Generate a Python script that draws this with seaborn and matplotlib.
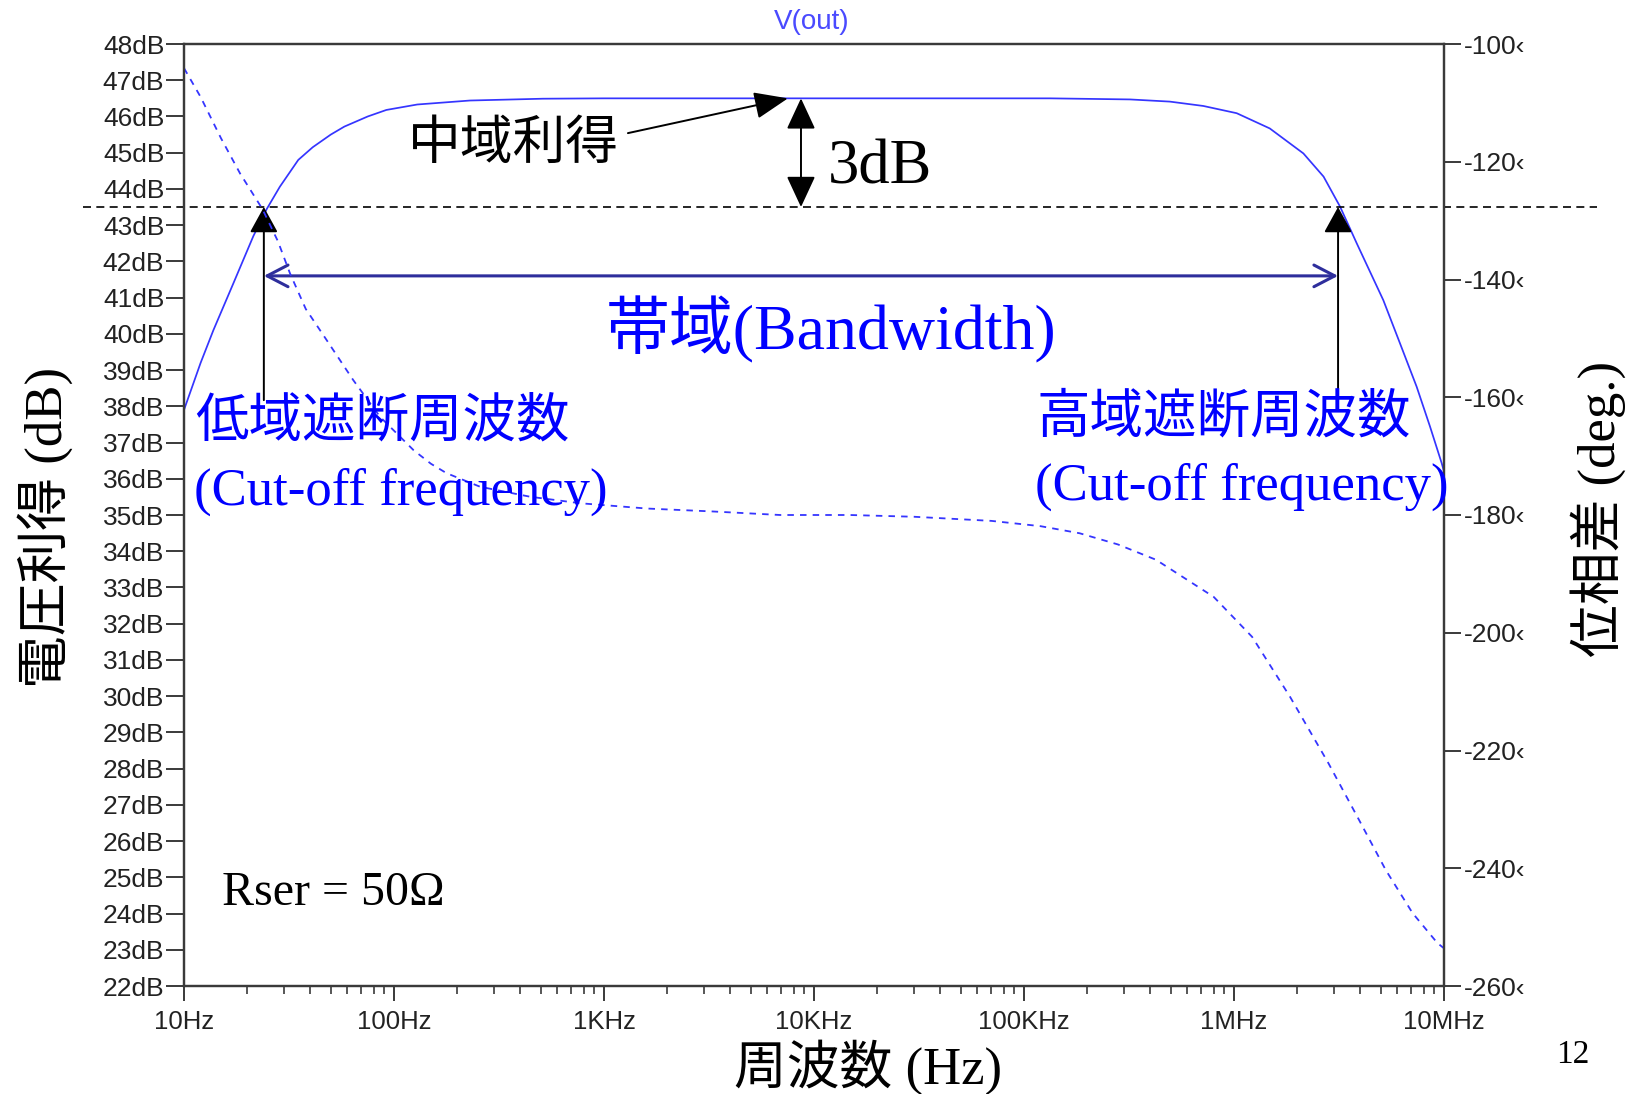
import numpy as np
import matplotlib
matplotlib.use("Agg")
import matplotlib.pyplot as plt
from matplotlib.ticker import FixedLocator, FixedFormatter, LogLocator, NullFormatter
import seaborn as sns

# Measured frequency response of the amplifier (Rser = 50 ohm)
gain_freq_hz = [10, 12, 13.8, 17.2, 21.4, 24.8, 28.6, 35, 41, 50, 58, 75, 92, 129, 230, 511,
                1e3, 1e4, 1.33e5, 3.2e5, 4.95e5, 7.14e5, 1.03e6, 1.48e6, 2.14e6,
                2.67e6, 3.2e6, 3.84e6, 5.14e6, 6.17e6, 7.41e6, 8.58e6, 9.75e6, 1e7]
gain_db = [37.9, 39.2, 40.1, 41.4, 42.7, 43.45, 44.06, 44.8, 45.15, 45.5, 45.72, 46.0, 46.18,
           46.33, 46.44, 46.49,
           46.5, 46.5, 46.5, 46.47, 46.41, 46.29, 46.09, 45.67, 44.98,
           44.34, 43.51, 42.5, 40.93, 39.74, 38.54, 37.44, 36.43, 36.2]

phase_freq_hz = [10, 12, 15, 18.5, 23.6, 28, 32, 38, 47.8, 64, 85.7, 124, 150, 178, 257, 445,
                 768, 1600, 3300, 6900, 14800, 30000, 70000, 1.2e5, 1.84e5, 2.8e5, 4.25e5,
                 8e5, 1.22e6, 1.85e6, 2.82e6, 3.94e6, 5.28e6, 7.08e6, 9.3e6, 1e7]
phase_deg = [-104.1, -109, -116, -122, -128, -133.5, -139.0, -145, -150.3, -157.1, -163.3,
             -169.0, -171.3, -172.9, -175.2, -176.9, -178.0, -178.9, -179.4, -180.0, -180.0,
             -180.3, -181.0, -181.9, -183.1, -185.0, -187.6, -193.9, -200.7, -210.9,
             -222.2, -231.8, -240.3, -247.6, -252.7, -253.6]

midband_db = 46.5
cutoff_db = midband_db - 3
f_low_hz = 24.0
f_high_hz = 3.13e6

x_ticks = [1e1, 1e2, 1e3, 1e4, 1e5, 1e6, 1e7]
x_tick_labels = ["10Hz", "100Hz", "1KHz", "10KHz", "100KHz", "1MHz", "10MHz"]
gain_ticks = list(range(22, 49))
gain_tick_labels = [f"{v}dB" for v in gain_ticks]
phase_ticks = list(range(-260, -99, 20))
phase_tick_labels = [f"{v}\u2039" for v in phase_ticks]

# ---------------------------------------------------------------- style
sns.set_theme(style="white")
plt.rcParams["font.family"] = ["Liberation Sans", "Noto Sans CJK JP"]
plt.rcParams["lines.scale_dashes"] = True

trace_blue = "#3535ff"
text_blue = "#0000ff"
arrow_navy = "#2e2e9c"
frame_col = "#3a3a3a"
tick_text = "#222222"
CJK = ["Noto Sans CJK JP"]
SERIF_CJK = ["Liberation Serif", "Noto Sans CJK JP"]

W, H = 1637, 1094
fig = plt.figure(figsize=(W / 100, H / 100), dpi=100, facecolor="white")


def fx(x):
    return x / W


def fy(y):
    return 1 - y / H


ax = fig.add_axes([fx(184), fy(986), (1444 - 184) / W, (986 - 44) / H])
ax2 = ax.twinx()

# ---------------------------------------------------------------- traces
ax.set_xscale("log")
sns.lineplot(x=gain_freq_hz, y=gain_db, ax=ax, color=trace_blue, lw=1.25,
             estimator=None, sort=True)
sns.lineplot(x=phase_freq_hz, y=phase_deg, ax=ax2, color=trace_blue, lw=1.3,
             estimator=None, sort=True, linestyle=(0, (3.6, 3.4)))

ax.set_xlim(10, 1e7)
ax.set_ylim(22, 48)
ax2.set_ylim(-260, -100)
for a in (ax, ax2):
    a.set_xlabel("")
    a.set_ylabel("")
    a.grid(False)
    for s in a.spines.values():
        s.set_color(frame_col)
        s.set_linewidth(1.6)

# ---------------------------------------------------------------- ticks
ax.xaxis.set_major_locator(FixedLocator(x_ticks))
ax.xaxis.set_major_formatter(FixedFormatter(x_tick_labels))
ax.xaxis.set_minor_locator(LogLocator(base=10, subs=np.arange(2, 10)))
ax.xaxis.set_minor_formatter(NullFormatter())
ax.tick_params(axis="x", which="major", bottom=True, direction="out", length=11,
               width=1.4, color=frame_col, pad=6, labelsize=18.5, labelcolor=tick_text)
ax.tick_params(axis="x", which="minor", bottom=True, direction="out", length=6,
               width=1.2, color=frame_col)

ax.yaxis.set_major_locator(FixedLocator(gain_ticks))
ax.yaxis.set_major_formatter(FixedFormatter(gain_tick_labels))
ax.tick_params(axis="y", which="major", left=True, direction="out", length=13,
               width=1.4, color=frame_col, pad=1.2, labelsize=19, labelcolor=tick_text)

ax2.yaxis.set_major_locator(FixedLocator(phase_ticks))
ax2.yaxis.set_major_formatter(FixedFormatter(phase_tick_labels))
ax2.tick_params(axis="y", which="major", right=True, direction="out", length=12.5,
                width=1.4, color=frame_col, pad=2, labelsize=19, labelcolor=tick_text)

# ---------------------------------------------------------------- -3 dB reference line
ax.axhline(cutoff_db, xmin=(83 - 184) / 1260, xmax=(1597 - 184) / 1260, clip_on=False,
           color="black", lw=1.2, linestyle=(0, (4.8, 3.2)), zorder=3)

# cut-off markers
for f in (f_low_hz, f_high_hz):
    ax.annotate("", xy=(f, cutoff_db), xytext=(f, 38.17),
                arrowprops=dict(arrowstyle="-|>,head_length=0.8,head_width=0.44",
                                color="black", lw=1.4, shrinkA=0, shrinkB=0,
                                mutation_scale=20))

# bandwidth arrow
ax.annotate("", xy=(f_high_hz, 41.6), xytext=(f_low_hz, 41.6),
            arrowprops=dict(arrowstyle="<->,head_length=0.5,head_width=0.26",
                            color=arrow_navy, lw=2.2, shrinkA=0, shrinkB=0,
                            mutation_scale=30))

# 3 dB span
ax.annotate("", xy=(8670, cutoff_db), xytext=(8670, midband_db),
            arrowprops=dict(arrowstyle="<|-|>,head_length=0.97,head_width=0.45",
                            color="black", lw=1.4, shrinkA=0, shrinkB=0,
                            mutation_scale=20))

# mid-band gain pointer
ax.annotate("", xy=(7515, midband_db), xytext=(1300, 45.54),
            arrowprops=dict(arrowstyle="-|>,head_length=1.05,head_width=0.42",
                            color="black", lw=1.4, shrinkA=0, shrinkB=0,
                            mutation_scale=20))

# ---------------------------------------------------------------- texts
fig.text(fx(812), fy(22), "V(out)", color="#4a4aff", fontsize=20,
         family=["Liberation Sans"], ha="center", va="center")
fig.text(fx(408), fy(143), "中域利得", color="black", fontsize=38, family=CJK,
         ha="left", va="center")
fig.text(fx(828), fy(183), "3dB", color="black", fontsize=45, family=SERIF_CJK,
         ha="left", va="baseline")
fig.text(fx(606), fy(349), "帯域(Bandwidth)", color=text_blue, fontsize=46,
         family=SERIF_CJK, ha="left", va="baseline")
fig.text(fx(195), fy(421), "低域遮断周波数", color=text_blue, fontsize=38.5, family=CJK,
         ha="left", va="center")
fig.text(fx(194), fy(505), "(Cut-off frequency)", color=text_blue, fontsize=38,
         family=SERIF_CJK, ha="left", va="baseline")
fig.text(fx(1036), fy(417), "高域遮断周波数", color=text_blue, fontsize=38.5, family=CJK,
         ha="left", va="center")
fig.text(fx(1035), fy(500), "(Cut-off frequency)", color=text_blue, fontsize=38,
         family=SERIF_CJK, ha="left", va="baseline")
fig.text(fx(222), fy(905), "Rser = 50Ω", color="black", fontsize=34.5,
         family=SERIF_CJK, ha="left", va="baseline")
fig.text(fx(1556), fy(1063), "12", color="black", fontsize=24,
         family=SERIF_CJK, ha="left", va="baseline")

# axis titles
fig.text(fx(868), fy(1084), "周波数 (Hz)", color="black", fontsize=38,
         family=SERIF_CJK, ha="center", va="baseline")
fig.text(fx(45), fy(527), "電圧利得 (dB)", color="black", fontsize=38,
         family=SERIF_CJK, ha="center", va="center", rotation=90)
fig.text(fx(1598), fy(509), "位相差 (deg.)", color="black", fontsize=38,
         family=SERIF_CJK, ha="center", va="center", rotation=90)

fig.savefig("out.png", dpi=100, facecolor="white")
